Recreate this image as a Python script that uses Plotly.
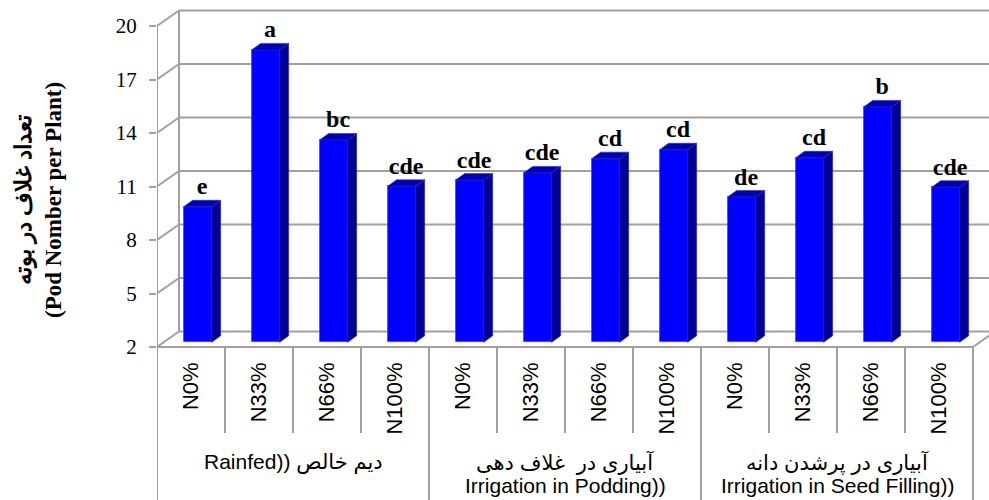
import plotly.graph_objects as go

# ---------------- data ----------------
categories = ["N0%", "N33%", "N66%", "N100%",
              "N0%", "N33%", "N66%", "N100%",
              "N0%", "N33%", "N66%", "N100%"]
groups = ["Rainfed)) دیم خالص",
          "آبیاری در  غلاف دهی<br>Irrigation in Podding))",
          "آبیاری در پرشدن دانه<br>Irrigation in Seed Filling))"]
values = [9.6, 18.4, 13.35, 10.75, 11.1, 11.5, 12.3, 12.8, 10.15, 12.35, 15.2, 10.7]
letters = ["e", "a", "bc", "cde", "cde", "cde", "cd", "cd", "de", "cd", "b", "cde"]
y_ticks = [2, 5, 8, 11, 14, 17, 20]
y_title = "<b>تعداد غلاف در بوته</b><br><b>(Pod Nomber per Plant)</b>"

# ---------------- geometry (pixel-based layout) ----------------
W, H = 989, 500
X0_PIX = 157            # front-left axis position
PX_CAT = 68.0           # pixels per category
Y_LO_PIX, Y_HI_PIX = 347, 26
Y_LO, Y_HI = y_ticks[0], y_ticks[-1]
K = (Y_LO_PIX - Y_HI_PIX) / (Y_HI - Y_LO)   # px per y unit

x_range = [-0.5, -0.5 + (W - X0_PIX) / PX_CAT]
y_range = [Y_LO - (H - Y_LO_PIX) / K, Y_LO + Y_LO_PIX / K]

DX, DY = 22 / PX_CAT, 15.5 / K          # wall depth
F1 = 0.3                                 # bar front depth fraction
BDX, BDY = 9 / PX_CAT, 6.5 / K           # bar depth
BW = 28 / PX_CAT                         # bar front width

def yv(pix):
    return Y_LO + (Y_LO_PIX - pix) / K

n = len(values)
xc = [i + F1 * DX for i in range(n)]
base = Y_LO + F1 * DY

fig = go.Figure()

# front faces
fig.add_trace(go.Bar(
    x=xc, y=[v - Y_LO for v in values], base=base, width=BW,
    marker=dict(color="#0000FF", line=dict(color="#3A3AFF", width=0.8)),
    hoverinfo="skip", showlegend=False))

# side and top faces
sx, sy = [], []
tx, ty = [], []
for c, v in zip(xc, values):
    top = v + F1 * DY
    xr, xl = c + BW / 2, c - BW / 2
    sx += [xr, xr + BDX, xr + BDX, xr, xr, None]
    sy += [base, base + BDY, top + BDY, top, base, None]
    tx += [xl, xl + BDX, xr + BDX, xr, xl, None]
    ty += [top, top + BDY, top + BDY, top, top, None]
fig.add_trace(go.Scatter(x=sx, y=sy, mode="lines", fill="toself",
                         fillcolor="#000099", line=dict(color="#1a1aa8", width=0.6),
                         hoverinfo="skip", showlegend=False))
fig.add_trace(go.Scatter(x=tx, y=ty, mode="lines", fill="toself",
                         fillcolor="#0000B5", line=dict(color="#2a2acc", width=0.6),
                         hoverinfo="skip", showlegend=False))

# significance letters
fig.add_trace(go.Scatter(
    x=[c + BDX / 2 for c in xc], y=[v + F1 * DY + BDY for v in values],
    mode="text", text=letters, textposition="top center",
    textfont=dict(family="Liberation Serif", size=24, color="black", weight="bold"),
    hoverinfo="skip", showlegend=False))

# ---------------- walls, gridlines, table ----------------
GRID = dict(color="#A0A0A0", width=2)
shapes = []
xl_front = -0.5
xr_front = n - 0.5
shapes.append(dict(type="line", x0=xl_front, x1=xl_front, y0=Y_LO, y1=Y_HI, line=GRID))
shapes.append(dict(type="line", x0=xl_front + DX, x1=xl_front + DX,
                   y0=Y_LO + DY, y1=Y_HI + DY, line=GRID))
for t in y_ticks:
    shapes.append(dict(type="line", x0=xl_front, x1=xl_front + DX, y0=t, y1=t + DY, line=GRID))
    shapes.append(dict(type="line", x0=xl_front + DX, x1=xr_front + DX,
                       y0=t + DY, y1=t + DY, line=GRID))
shapes.append(dict(type="line", x0=xl_front, x1=xr_front, y0=Y_LO, y1=Y_LO, line=GRID))
shapes.append(dict(type="line", x0=xr_front, x1=xr_front + DX, y0=Y_LO, y1=Y_LO + DY, line=GRID))
y_inner = yv(433)
for i in range(n + 1):
    yb = y_range[0] if i % 4 == 0 else y_inner
    shapes.append(dict(type="line", x0=i - 0.5, x1=i - 0.5, y0=Y_LO, y1=yb, line=GRID))
for s in shapes:
    s["layer"] = "below"
    s["xref"] = "x"
    s["yref"] = "y"

annotations = []
LINE_Y = [462, 485]   # pixel centres of group-label lines
for g, label in enumerate(groups):
    for j, line in enumerate(label.split("<br>")):
        annotations.append(dict(
            x=g * 4 + 1.5, y=yv(LINE_Y[j]), xref="x", yref="y", text=line, showarrow=False,
            xanchor="center", yanchor="middle", align="center",
            font=dict(family="Liberation Sans, DejaVu Sans", size=21, color="black")))
annotations.append(dict(
    x=38 / W, y=yv(200), xref="paper", yref="y", text=y_title, showarrow=False,
    textangle=-90, xanchor="center", yanchor="middle", align="center",
    font=dict(family="Liberation Serif, DejaVu Serif", size=23, color="black")))

fig.update_layout(
    width=W, height=H,
    margin=dict(l=0, r=0, t=0, b=0),
    paper_bgcolor="white", plot_bgcolor="white",
    showlegend=False, bargap=0,
    shapes=shapes, annotations=annotations,
    xaxis=dict(domain=[X0_PIX / W, 1], range=x_range, anchor="free",
               position=(H - Y_LO_PIX) / H,
               tickmode="array", tickvals=list(range(n)), ticktext=categories,
               tickangle=-90, ticks="", showline=False, showgrid=False, zeroline=False,
               ticklabelstandoff=10,
               tickfont=dict(family="Liberation Sans", size=22, color="black"),
               automargin=False, fixedrange=True),
    yaxis=dict(domain=[0, 1], range=y_range, tickmode="array", tickvals=y_ticks,
               ticks="outside", ticklen=7, tickwidth=2, tickcolor="#A0A0A0",
               showline=False, showgrid=False, zeroline=False,
               ticklabelstandoff=8,
               tickfont=dict(family="Liberation Serif", size=21, color="black"),
               automargin=False, fixedrange=True),
)

fig.write_html("out.html", config={"displayModeBar": False},
               post_script="document.body.style.margin='0';document.body.style.overflow='hidden';")
